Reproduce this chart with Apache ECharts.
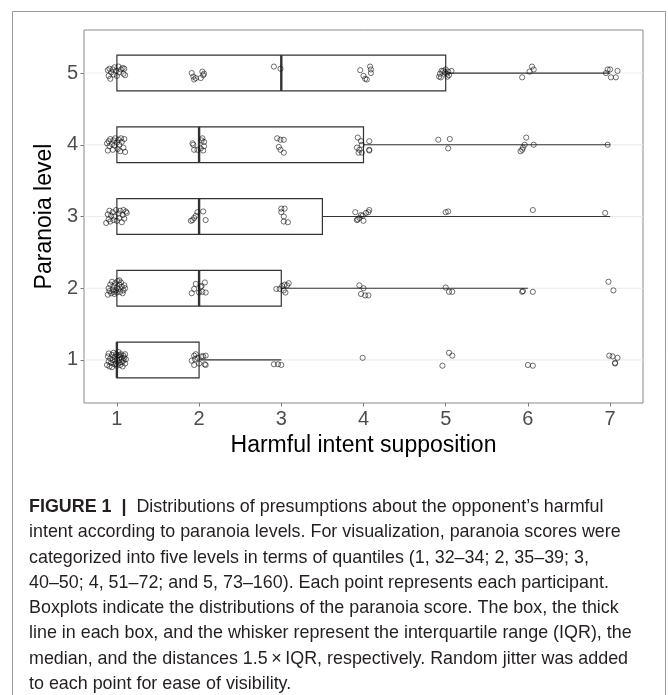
<!DOCTYPE html>
<html>
<head>
<meta charset="utf-8">
<script src="https://cdn.jsdelivr.net/npm/echarts@6/dist/echarts.min.js"></script>
<style>
html,body{margin:0;padding:0;background:#fff;}
#chart{width:668px;height:695px;}
</style>
</head>
<body>
<div id="chart"></div>
<script>
// ---- data ----
const levels = [1, 2, 3, 4, 5];
const xTicks = [1, 2, 3, 4, 5, 6, 7];
const yTicks = [1, 2, 3, 4, 5];
// boxplot stats per level: [level, whiskerLow, q1, median, q3, whiskerHigh]
const boxStats = [
  [1, 1, 1, 1, 2, 3],
  [2, 1, 1, 2, 3, 6],
  [3, 1, 1, 2, 3.5, 7],
  [4, 1, 1, 2, 4, 7],
  [5, 1, 1, 3, 5, 7]
];
// jittered participants [harmful intent, paranoia level]
const level1Points = [
  [0.88,0.93],[0.89,1.05],[0.90,0.98],[0.90,1.09],[0.91,0.91],[0.92,1.02],[0.93,0.96],[0.94,1.07],[0.94,0.90],[0.95,1.00],
  [0.96,1.10],[0.97,0.94],[0.97,1.04],[0.98,0.99],[0.99,1.08],[1.00,0.92],[1.00,1.01],[1.01,1.06],[1.02,0.96],[1.02,1.11],
  [1.03,1.00],[1.04,0.93],[1.04,1.04],[1.05,1.08],[1.06,0.97],[1.06,1.02],[1.07,0.91],[1.08,1.06],[1.08,0.99],[1.09,1.03],
  [1.10,0.95],[1.10,1.08],[1.11,1.01],[0.99,0.95],[1.03,1.07],
  [1.91,0.99],[1.94,1.06],[1.94,0.93],[1.96,1.08],[2.00,0.95],[2.03,1.05],[2.05,1.05],[2.08,1.06],[2.08,0.93],[2.07,0.94],[1.98,1.03],[1.95,1.01],
  [2.91,0.94],[2.96,0.94],[3.00,0.93],
  [3.99,1.03],
  [4.96,0.92],[5.04,1.10],[5.08,1.06],
  [6.00,0.93],[6.06,0.92],
  [6.99,1.06],[7.03,1.05],[7.09,1.03],[7.06,0.96],[7.06,0.95]
];
const level2Points = [
  [0.89,1.91],[0.90,2.00],[0.91,1.96],[0.92,2.05],[0.93,1.93],[0.94,2.09],[0.95,1.98],[0.96,2.03],[0.97,1.92],[0.98,2.07],
  [0.99,1.97],[1.00,2.01],[1.00,1.94],[1.01,2.10],[1.02,1.99],[1.03,2.05],[1.04,1.95],[1.05,2.08],[1.06,2.02],[1.07,1.93],
  [1.08,1.97],[1.09,2.04],[1.10,2.00],[0.96,1.95],[1.03,2.11],
  [1.91,1.93],[1.94,1.99],[1.96,2.06],[2.03,2.03],[2.04,1.95],[2.07,2.08],[2.08,1.94],[2.00,1.94],[2.02,2.02],
  [2.94,1.99],[2.98,1.99],[3.01,2.03],[3.05,1.94],[3.07,2.04],[3.09,2.07],[3.03,1.97],[3.04,2.05],
  [3.95,2.04],[4.00,2.00],[3.97,1.92],[4.02,1.90],[4.06,1.90],
  [5.00,2.01],[5.04,1.95],[5.08,1.95],
  [5.93,1.95],[5.94,1.96],[6.06,1.95],
  [6.98,2.09],[7.04,1.97]
];
const level3Points = [
  [0.87,2.91],[0.89,3.03],[0.90,2.96],[0.91,3.08],[0.92,2.93],[0.93,3.01],[0.95,3.06],[0.96,2.95],[0.97,3.00],[0.99,3.09],
  [1.00,2.94],[1.02,3.04],[1.03,2.98],[1.04,3.08],[1.06,2.92],[1.07,3.02],[1.08,3.09],[1.09,2.97],[1.11,3.07],[1.12,3.05],
  [1.90,2.94],[1.92,2.95],[1.96,3.01],[1.98,3.06],[2.05,3.07],[2.08,2.95],[1.94,2.98],
  [3.00,3.11],[3.04,3.11],[3.00,3.06],[3.03,3.00],[3.03,2.93],[3.08,2.92],
  [3.90,3.06],[3.92,2.95],[3.95,2.98],[3.97,3.02],[3.99,3.01],[4.00,2.94],[4.03,3.05],[4.06,3.06],[4.07,3.09],[3.93,2.96],
  [5.00,3.06],[5.03,3.07],
  [6.06,3.09],
  [6.94,3.05]
];
const level4Points = [
  [0.88,4.02],[0.89,3.92],[0.90,4.05],[0.91,3.98],[0.92,4.08],[0.94,4.01],[0.95,3.93],[0.96,4.06],[0.97,3.99],[0.98,4.09],
  [1.00,4.03],[1.01,3.94],[1.02,4.07],[1.03,4.00],[1.04,3.91],[1.05,4.09],[1.06,4.04],[1.08,3.96],[1.09,4.08],[1.10,3.90],
  [1.92,4.02],[1.93,4.00],[1.94,3.93],[1.98,3.93],[2.04,4.09],[2.06,4.04],[2.06,3.98],[2.02,3.95],[2.05,3.92],[2.03,4.06],
  [2.95,4.09],[2.99,4.07],[3.03,4.07],[2.97,3.97],[2.99,3.93],[3.03,3.89],
  [3.93,4.10],[3.97,4.05],[3.98,4.00],[3.92,3.96],[3.94,3.89],[3.98,3.89],[4.07,4.05],[4.07,3.92],[4.07,3.93],[3.95,3.93],
  [4.91,4.07],[5.05,4.08],[5.03,3.95],
  [5.98,4.10],[5.96,4.00],[5.94,3.96],[5.91,3.91],[6.07,4.00],[5.93,3.93],
  [6.97,4.00]
];
const level5Points = [
  [0.89,5.04],[0.90,4.96],[0.91,5.06],[0.92,4.92],[0.93,5.01],[0.95,5.05],[0.96,4.98],[0.97,5.08],[0.99,5.03],[1.00,4.96],
  [1.02,5.09],[1.03,5.01],[1.05,5.05],[1.07,5.07],[1.08,4.99],[1.09,5.06],[1.10,4.97],
  [1.91,5.00],[1.93,4.95],[1.94,4.91],[1.96,4.93],[2.02,4.93],[2.04,5.02],[2.06,4.99],[2.05,4.97],
  [2.91,5.09],[2.99,5.06],
  [3.96,5.04],[4.00,4.96],[4.02,4.92],[4.04,4.91],[4.08,5.09],[4.09,5.05],[4.09,5.00],
  [4.92,4.95],[4.93,4.99],[4.95,5.03],[4.97,5.03],[4.99,5.01],[5.01,4.99],[5.02,4.95],[5.03,5.02],[5.04,4.97],[5.07,5.03],[4.94,4.94],[5.00,5.05],
  [5.93,4.94],[6.02,5.02],[6.05,5.09],[6.07,5.05],
  [6.95,5.00],[6.97,5.05],[7.00,5.05],[7.01,4.94],[7.07,4.94],[7.09,5.03]
];
const captionLines = [
  '{b|FIGURE 1}  {b||}  Distributions of presumptions about the opponent\u2019s harmful',
  'intent according to paranoia levels. For visualization, paranoia scores were',
  'categorized into five levels in terms of quantiles (1, 32\u201334; 2, 35\u201339; 3,',
  '40\u201350; 4, 51\u201372; and 5, 73\u2013160). Each point represents each participant.',
  'Boxplots indicate the distributions of the paranoia score. The box, the thick',
  'line in each box, and the whisker represent the interquartile range (IQR), the',
  'median, and the distances 1.5\u2009\u00d7\u2009IQR, respectively. Random jitter was added',
  'to each point for ease of visibility.'
];

// ---- styles ----
const FONT = '"Liberation Sans", Arial, Helvetica, sans-serif';
const CAP_SIZE = 17.9;
const BOX_HALF = 0.25;
const X_MIN = 0.6, X_MAX = 7.4;
const GRID = {left: 84, top: 30, width: 559, height: 373};

const chart = echarts.init(document.getElementById('chart'), null, {renderer: 'canvas'});

const allPoints = [].concat(level1Points, level2Points, level3Points, level4Points, level5Points);

const caption = captionLines.map((t, i) => ({
  type: 'text',
  left: 29,
  top: 498 + i * 25.3,
  silent: true,
  style: {
    text: t,
    font: CAP_SIZE + 'px ' + FONT,
    fill: '#231f20',
    rich: { b: { fontWeight: 'bold', fontSize: CAP_SIZE, fontFamily: FONT, fill: '#231f20' } }
  }
}));

const option = {
  animation: false,
  backgroundColor: '#ffffff',
  grid: Object.assign({show: true, borderColor: '#8a8a8a', borderWidth: 1, backgroundColor: '#fff', containLabel: false}, GRID),
  xAxis: {
    type: 'value', min: X_MIN, max: X_MAX,
    name: 'Harmful intent supposition', nameLocation: 'middle', nameGap: 29,
    nameTextStyle: {fontSize: 23, color: '#000', fontFamily: FONT},
    axisLine: {show: false},
    axisTick: {show: true, length: 3.5, customValues: xTicks, lineStyle: {color: '#7a7a7a', width: 1}},
    axisLabel: {customValues: xTicks, fontSize: 20, color: '#4d4d4d', fontFamily: FONT, margin: 6},
    splitLine: {show: false}
  },
  yAxis: {
    type: 'value', min: 0.4, max: 5.6,
    name: 'Paranoia level', nameLocation: 'middle', nameGap: 22, nameRotate: 90,
    nameTextStyle: {fontSize: 23, color: '#000', fontFamily: FONT},
    axisLine: {show: false},
    axisTick: {show: true, length: 3.5, customValues: yTicks, lineStyle: {color: '#7a7a7a', width: 1}},
    axisLabel: {customValues: yTicks, fontSize: 20, color: '#4d4d4d', fontFamily: FONT, margin: 6},
    splitLine: {show: false}
  },
  graphic: [{
    type: 'rect', silent: true, z: -10,
    shape: {x: 12.5, y: 11.5, width: 653, height: 720},
    style: {fill: 'none', stroke: '#9a9a9a', lineWidth: 1}
  }].concat(caption),
  series: [
    {
      type: 'custom',
      name: 'gridlines',
      z: 1,
      data: levels.map(l => [l]),
      renderItem: function (params, api) {
        const y = api.value(0);
        const a = api.coord([X_MIN, y]);
        const b = api.coord([X_MAX, y]);
        return {type: 'line', shape: {x1: a[0], y1: a[1], x2: b[0], y2: b[1]},
          style: {stroke: '#ebebeb', lineWidth: 1}};
      }
    },
    {
      type: 'custom',
      name: 'boxes',
      z: 2,
      data: boxStats,
      renderItem: function (params, api) {
        const y = api.value(0), lo = api.value(1), q1 = api.value(2), med = api.value(3), q3 = api.value(4), hi = api.value(5);
        const tl = api.coord([q1, y + BOX_HALF]);
        const br = api.coord([q3, y - BOX_HALF]);
        const pLo = api.coord([lo, y]), pQ1 = api.coord([q1, y]), pQ3 = api.coord([q3, y]), pHi = api.coord([hi, y]);
        const mTop = api.coord([med, y + BOX_HALF]), mBot = api.coord([med, y - BOX_HALF]);
        const stroke = '#333333';
        return {
          type: 'group',
          children: [
            {type: 'line', shape: {x1: pLo[0], y1: pLo[1], x2: pQ1[0], y2: pQ1[1]}, style: {stroke: stroke, lineWidth: 1.2}},
            {type: 'line', shape: {x1: pQ3[0], y1: pQ3[1], x2: pHi[0], y2: pHi[1]}, style: {stroke: stroke, lineWidth: 1.2}},
            {type: 'rect', shape: {x: tl[0], y: tl[1], width: br[0] - tl[0], height: br[1] - tl[1]},
              style: {fill: '#ffffff', stroke: stroke, lineWidth: 1.2}},
            {type: 'line', shape: {x1: mTop[0], y1: mTop[1], x2: mBot[0], y2: mBot[1]}, style: {stroke: stroke, lineWidth: 2.4}}
          ]
        };
      }
    },
    {
      type: 'scatter',
      name: 'participants',
      z: 3,
      symbol: 'circle',
      symbolSize: 5.2,
      data: allPoints,
      itemStyle: {color: 'rgba(255,255,255,0)', borderColor: '#111', borderWidth: 0.75},
      emphasis: {disabled: true}
    }
  ]
};
chart.setOption(option);
</script>
</body>
</html>
